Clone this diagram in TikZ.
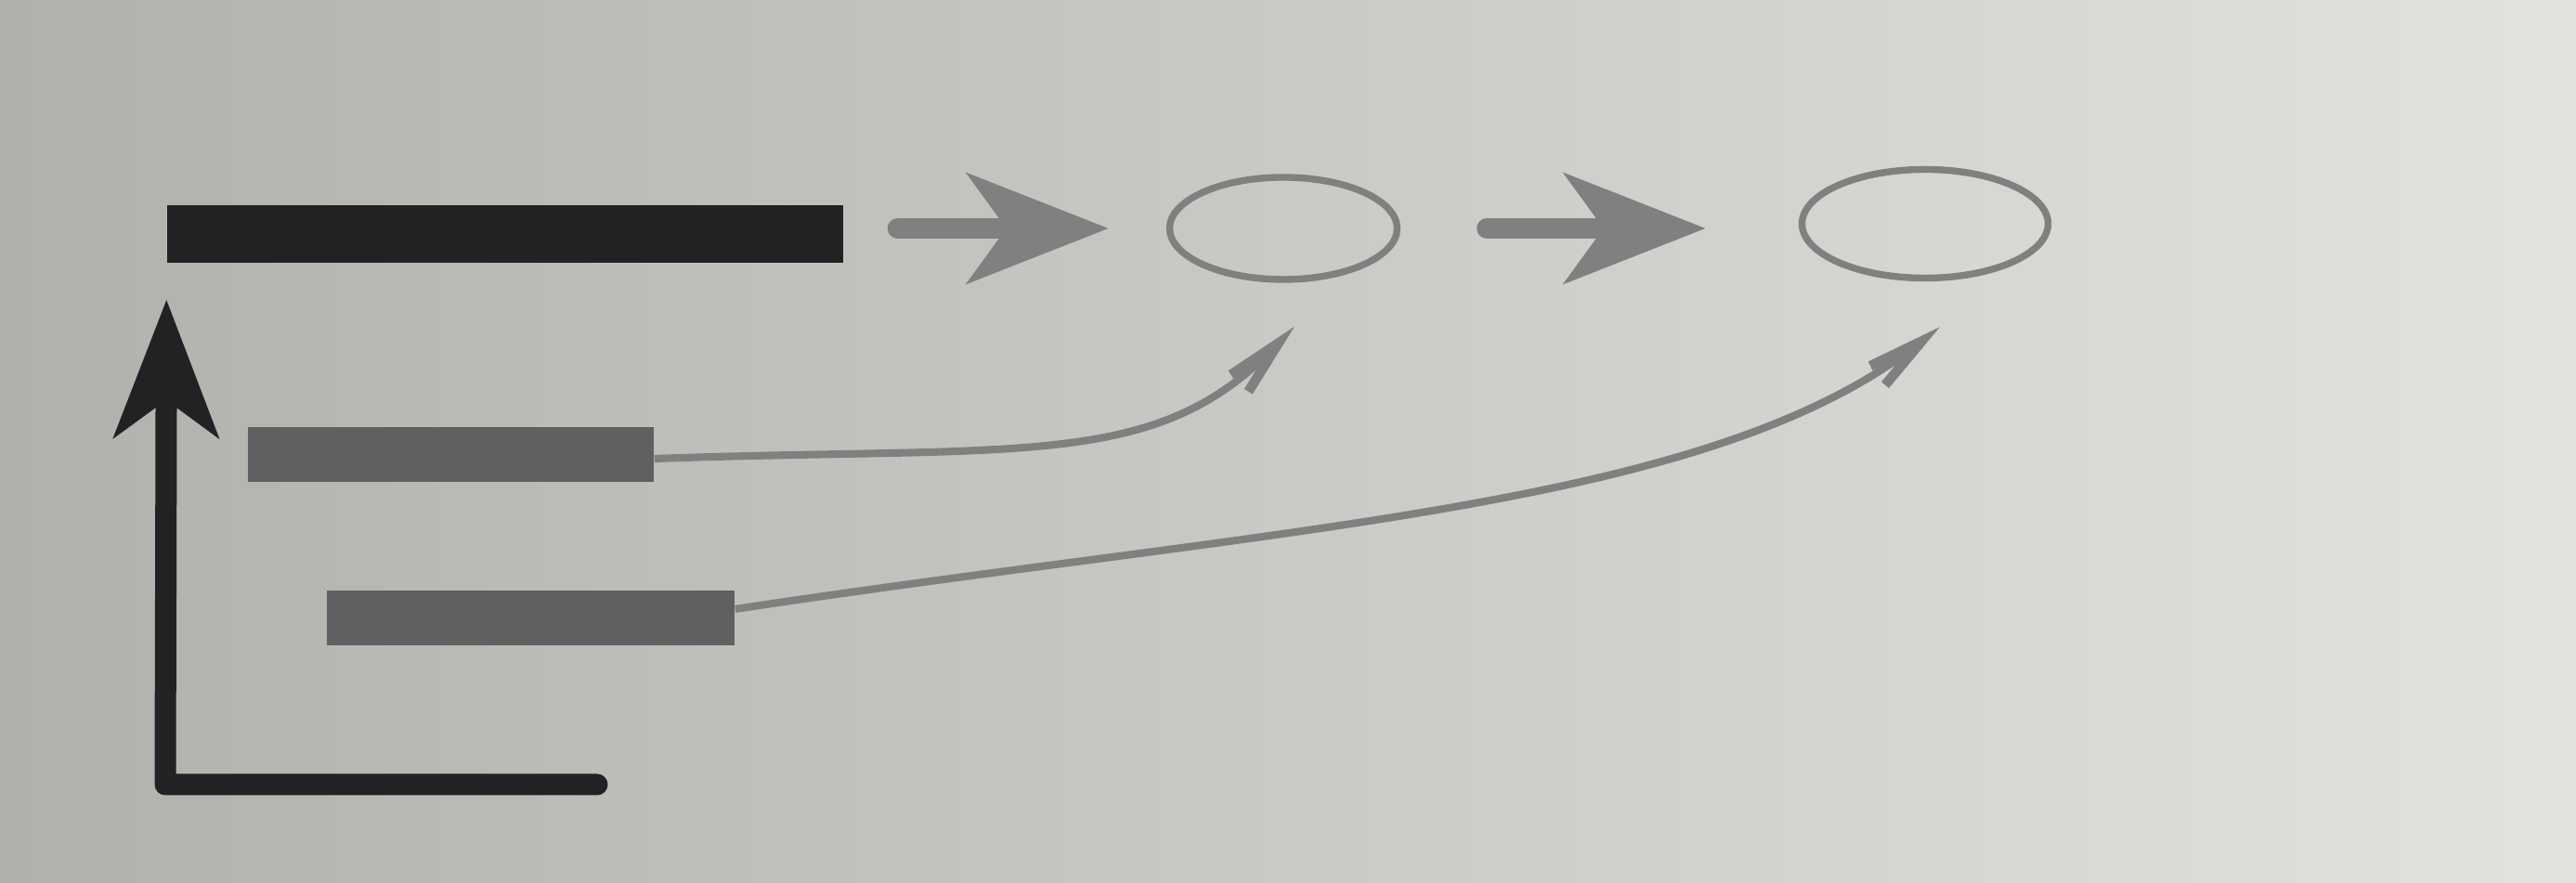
\documentclass[tikz,border=0pt]{standalone}
\usepackage{tikz}
\usetikzlibrary{arrows.meta,positioning,calc,shapes.geometric}
\definecolor{ink}{RGB}{34,34,36}
\definecolor{tone}{RGB}{96,96,98}
\definecolor{pale}{RGB}{128,128,128}
\definecolor{paperl}{RGB}{176,176,172}
\definecolor{paperr}{RGB}{226,227,223}

\begin{document}
\begin{tikzpicture}[
  bar/.style={rectangle,fill=ink,inner sep=0pt,minimum height=0.62cm},
  gbar/.style={rectangle,fill=tone,inner sep=0pt,minimum height=0.59cm},
  ring/.style={ellipse,draw=pale,line width=2.1pt,inner sep=0pt},
  fatarrow/.style={draw=pale,line width=0.22cm,line cap=round,-{Stealth[length=1.52cm,width=1.18cm,inset=0.42cm]}},
  curvearrow/.style={draw=pale,line width=2.3pt,-{Straight Barb[length=0.6cm,width=0.26cm,line width=3pt]}}
]
\useasboundingbox (0,0) rectangle (27.74,9.51);
\shade[left color=paperl,right color=paperr] (0,0) rectangle (27.74,9.51);

\node[bar,minimum width=7.28cm] (main) at (5.44,6.99) {};
\node[gbar,minimum width=4.37cm] (g1) at (4.855,4.61) {};
\node[gbar,minimum width=4.39cm] (g2) at (5.715,2.85) {};
\node[ring,minimum width=2.45cm,minimum height=1.1cm] (ella) at (13.82,7.05) {};
\node[ring,minimum width=2.65cm,minimum height=1.17cm] (ellb) at (20.73,7.1) {};

\draw[fatarrow,shorten <=0.58cm,shorten >=0.62cm] (main.east |- ella.west) -- (ella.west);
\draw[fatarrow,shorten <=0.93cm,shorten >=1.0cm] (ella.east) -- (ella.east -| ellb.west);

\draw[curvearrow] ([yshift=-0.04cm]g1.east) .. controls +(4,0.14) and +(-1.5,-1.55) .. ([xshift=0.12cm,yshift=-0.47cm]ella.south);
\draw[curvearrow] ([yshift=0.1cm]g2.east) .. controls +(5.96,0.9) and +(-2.5,-1.95) .. ([xshift=0.16cm,yshift=-0.49cm]ellb.south);

% loop back to the top bar
\coordinate (foot) at (6.43,1.06);
\coordinate (corner) at (1.78,1.06);
\coordinate (top) at ([yshift=-0.39cm]main.south west);
\draw[ink,line width=0.23cm,line cap=round,line join=round,-{Stealth[length=1.48cm,width=1.12cm,inset=0.4cm]}] (foot) -- (corner) -- (top);
\end{tikzpicture}
\end{document}
